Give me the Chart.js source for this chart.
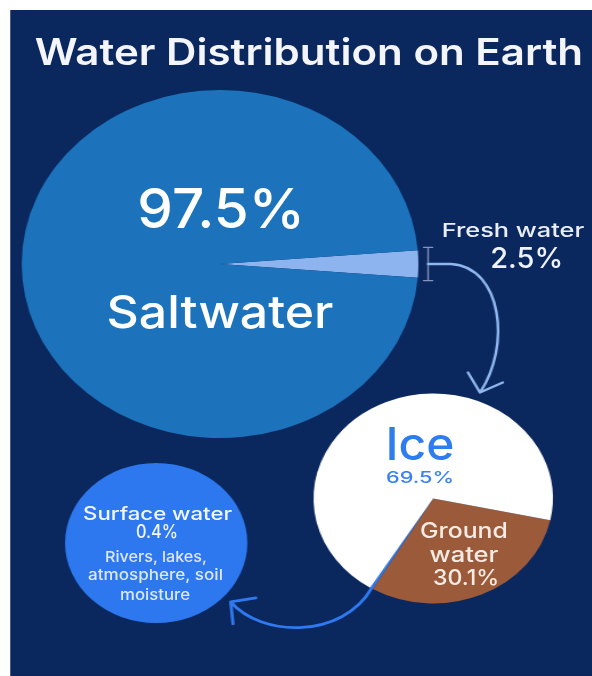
<!DOCTYPE html>
<html>
<head>
<meta charset="utf-8">
<title>Water Distribution on Earth</title>
<script src="https://cdn.jsdelivr.net/npm/chart.js@4.4.1/dist/chart.umd.min.js"></script>
<style>
  html, body { margin: 0; padding: 0; background: #fff; }
  body { width: 592px; height: 676px; overflow: hidden; position: relative; }
  /* everything is laid out on a 520px stage and stretched to the window width */
  #stage { position: absolute; left: 0; top: 0; width: 520px; height: 676px; transform: scaleX(1.14); transform-origin: 0 0; }
  #panel { position: absolute; left: 8.8px; top: 10px; width: 520px; height: 680px; background: #0a275e; }
  #stage canvas, #stage svg { position: absolute; left: 0; top: 0; }
  svg text { font-family: Inter, "Open Sans", sans-serif; text-anchor: middle; }
</style>
</head>
<body>
<div id="stage">
  <div id="panel"></div>
  <canvas id="earthChart" width="520" height="676"></canvas>
  <canvas id="freshChart" width="520" height="676"></canvas>
  <canvas id="surfaceChart" width="520" height="676"></canvas>
  <svg id="labels" width="520" height="676"></svg>
</div>
<script>
// All water on Earth
const earthLabels = ['Fresh water', 'Saltwater'];
const earthValues = [2.5, 97.5];

// Fresh water split
const freshLabels = ['Ground water', 'Surface water', 'Ice'];
const freshValues = [30.1, 0.4, 69.5];

// Surface water and where it sits
const surfaceLabels = ['Surface water'];
const surfaceValues = [0.4];
const surfaceNotes = ['Rivers, lakes,', 'atmosphere, soil', 'moisture'];

const pct = (v) => v + '%';

// common pie options; padding places the pie on the shared stage
function pieOptions(padding, rotation) {
  return {
    responsive: false,
    animation: false,
    events: [],
    rotation,
    layout: { padding },
    plugins: { legend: { display: false }, tooltip: { enabled: false } },
  };
}

const earthChart = new Chart(document.getElementById('earthChart'), {
  type: 'pie',
  data: {
    labels: earthLabels,
    datasets: [{ data: earthValues, backgroundColor: ['#8db4ee', '#1c73bc'], borderWidth: 0, hoverOffset: 0 }],
  },
  // fresh water wedge centred on the right side
  options: pieOptions({ left: 19, right: 153, top: 90, bottom: 238 }, 90 - earthValues[0] * 1.8),
});

const freshChart = new Chart(document.getElementById('freshChart'), {
  type: 'pie',
  data: {
    labels: freshLabels,
    datasets: [{ data: freshValues, backgroundColor: ['#9b5b3b', '#2f7af0', '#ffffff'], borderWidth: 0, hoverOffset: 0 }],
  },
  options: pieOptions({ left: 275, right: 35, top: 393.5, bottom: 72.5 }, 102),
});

// arrows between the pies, drawn on the top canvas
const connectors = {
  id: 'connectors',
  afterDraw(chart) {
    const ctx = chart.ctx;
    const fresh = earthChart.getDatasetMeta(0).data[0];
    const ice = freshChart.getDatasetMeta(0).data[2];
    const surf = freshChart.getDatasetMeta(0).data[1];
    const circle = chart.getDatasetMeta(0).data[0];

    ctx.save();
    ctx.lineCap = 'round';
    ctx.lineJoin = 'round';

    // bracket on the edge of the fresh water wedge
    const bx = fresh.x + fresh.outerRadius + 8.5;
    const y0 = fresh.y + fresh.outerRadius * Math.sin(fresh.startAngle) - 3;
    const y1 = fresh.y + fresh.outerRadius * Math.sin(fresh.endAngle) + 3;
    ctx.strokeStyle = '#8394bd';
    ctx.lineWidth = 1.4;
    ctx.beginPath();
    ctx.moveTo(bx, y0); ctx.lineTo(bx, y1);
    ctx.moveTo(bx - 4, y0); ctx.lineTo(bx + 4, y0);
    ctx.moveTo(bx - 4, y1); ctx.lineTo(bx + 4, y1);
    ctx.stroke();

    // fresh water -> ice pie
    const tip = { x: ice.x + 41, y: ice.y - ice.outerRadius - 1 };
    ctx.strokeStyle = '#8fb6ee';
    ctx.lineWidth = 2.4;
    ctx.beginPath();
    ctx.moveTo(bx, fresh.y);
    ctx.lineTo(bx + 20, fresh.y);
    ctx.bezierCurveTo(bx + 65, fresh.y + 3, bx + 73, fresh.y + 82, tip.x, tip.y);
    ctx.moveTo(tip.x - 10.5, tip.y - 20);
    ctx.lineTo(tip.x, tip.y);
    ctx.lineTo(tip.x + 20, tip.y - 10);
    ctx.stroke();

    // surface water sliver -> surface water circle
    const mid = (surf.startAngle + surf.endAngle) / 2;
    const start = { x: surf.x + surf.outerRadius * Math.cos(mid), y: surf.y + surf.outerRadius * Math.sin(mid) };
    const a = 42 * Math.PI / 180;
    const end = { x: circle.x + (circle.outerRadius + 8) * Math.cos(a), y: circle.y + (circle.outerRadius + 8) * Math.sin(a) };
    ctx.strokeStyle = '#2f7af0';
    ctx.lineWidth = 2.8;
    ctx.beginPath();
    ctx.moveTo(start.x, start.y);
    ctx.bezierCurveTo(start.x - 25, start.y + 50, end.x + 27, end.y + 36, end.x, end.y);
    ctx.moveTo(end.x + 22, end.y - 4);
    ctx.lineTo(end.x, end.y);
    ctx.lineTo(end.x + 2, end.y + 22);
    ctx.stroke();
    ctx.restore();
  },
};

const surfaceChart = new Chart(document.getElementById('surfaceChart'), {
  type: 'pie',
  data: {
    labels: surfaceLabels,
    datasets: [{ data: surfaceValues, backgroundColor: ['#2d78ee'], borderWidth: 0, hoverOffset: 0 }],
  },
  options: pieOptions({ left: 57, right: 303, top: 463, bottom: 53 }, 0),
  plugins: [connectors],
});

// text labels (x = centre, y = baseline, w = drawn width on the stage)
const [groundWord, waterWord] = freshLabels[0].split(' ');
const textItems = [
  { t: 'Water Distribution on Earth', x: 271, y: 65, size: 37, w: 481, weight: 600, fill: '#f3f5fa' },
  { t: pct(earthValues[1]), x: 194, y: 228, size: 55, w: 147, weight: 500, fill: '#ffffff' },
  { t: earthLabels[1], x: 193, y: 328, size: 45, w: 199, weight: 500, fill: '#ffffff' },
  { t: earthLabels[0], x: 450, y: 237, size: 19, w: 125, weight: 500, fill: '#e8edf7' },
  { t: pct(earthValues[0]), x: 462, y: 268, size: 28, w: 64, weight: 500, fill: '#eef2fa' },
  { t: freshLabels[2], x: 368.4, y: 460, size: 45, w: 60.5, weight: 500, fill: '#2f7cf0' },
  { t: pct(freshValues[2]), x: 368.4, y: 483, size: 16, w: 59.6, weight: 500, fill: '#3b82f1' },
  { t: groundWord, x: 407, y: 538, size: 21, w: 77, weight: 500, fill: '#f5ebe4' },
  { t: waterWord, x: 407, y: 562, size: 21, w: 60.5, weight: 500, fill: '#f5ebe4' },
  { t: pct(freshValues[0]), x: 408.8, y: 585, size: 21, w: 58, weight: 500, fill: '#f5ebe4' },
  { t: surfaceLabels[0], x: 138.2, y: 520, size: 18, w: 130.7, weight: 500, fill: '#f2f6fe' },
  { t: pct(surfaceValues[0]), x: 137.7, y: 538, size: 18, w: 36.8, weight: 500, fill: '#f2f6fe' },
  { t: surfaceNotes[0], x: 136.8, y: 562, size: 15, w: 89.5, weight: 500, fill: '#dce8fc' },
  { t: surfaceNotes[1], x: 136.4, y: 580, size: 15, w: 118.4, weight: 500, fill: '#dce8fc' },
  { t: surfaceNotes[2], x: 136, y: 600, size: 15, w: 61.4, weight: 500, fill: '#dce8fc' },
];

const svg = document.getElementById('labels');
textItems.forEach((d) => {
  const el = document.createElementNS('http://www.w3.org/2000/svg', 'text');
  el.setAttribute('x', d.x);
  el.setAttribute('y', d.y);
  el.setAttribute('font-size', d.size);
  el.setAttribute('font-weight', d.weight);
  el.setAttribute('fill', d.fill);
  el.setAttribute('textLength', d.w);
  el.setAttribute('lengthAdjust', 'spacingAndGlyphs');
  el.textContent = d.t;
  svg.appendChild(el);
});
</script>
</body>
</html>
